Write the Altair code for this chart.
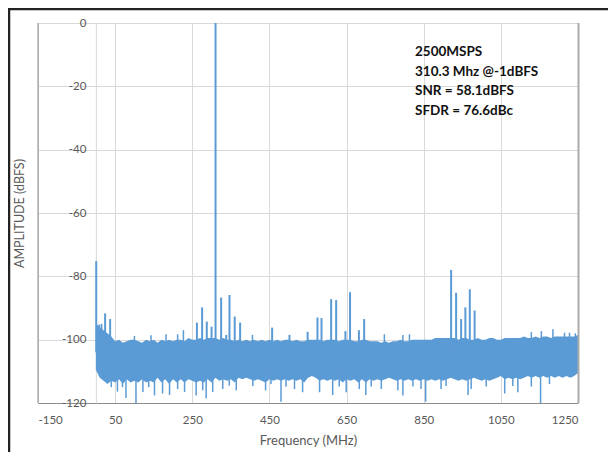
import altair as alt
import pandas as pd

# ---------------- data ----------------
band_freq = list(range(0, 1251, 10))
band_upper = [
    -95, -96, -97, -98, -99, -100.5, -100, -101, -100.5, -100,
    -100, -100.5, -101, -100, -100.5, -100, -101, -100, -100.5, -100,
    -100.5, -100, -100, -100.5, -99.5, -100, -100, -99.5, -100, -99.5,
    -99.5, -99.5, -100, -99.5, -100, -100, -100.5, -100, -100.5, -100,
    -100.5, -100, -100.5, -100, -100.5, -100, -100.5, -100, -100.5, -100,
    -100, -100.5, -100, -100.5, -100.5, -100, -100, -100, -100, -100.5,
    -100, -100, -100, -100.5, -100, -100, -100, -100.5, -100.5, -100,
    -100, -100.5, -100.5, -100.5, -101, -100.5, -101, -100.5, -100.5, -100,
    -100.5, -100.5, -100, -100, -100, -100, -100, -100, -99.5, -99.5,
    -99.5, -99.5, -99.5, -99.5, -100, -99.5, -99.5, -100, -100, -99.5,
    -100, -100, -99.5, -99.5, -100, -100, -99.5, -99.5, -99.5, -99.5,
    -99.5, -99, -99.5, -99.5, -99, -99.5, -99, -99, -99.5, -99,
    -99, -99, -99, -99, -99, -98.5,
]
band_lower = [
    -109.5, -112, -113, -114, -113, -113.5, -112.5, -114, -112.5, -113.5,
    -113, -113.5, -112.5, -113.5, -113, -113.5, -112, -113.5, -112.5, -114,
    -112.5, -113.5, -112.5, -113.5, -112.5, -113, -113.5, -113, -113.5, -112.5,
    -113.5, -112, -113, -112.5, -113, -112.5, -113.5, -112, -112.5, -112,
    -112.5, -113, -112.5, -113, -113.5, -112.5, -113, -112.5, -113, -112.5,
    -113, -112.5, -113, -112.5, -113.5, -112, -111.5, -112, -113, -112.5,
    -113, -112.5, -113, -112.5, -113.5, -112.5, -113, -112.5, -113.5, -112.5,
    -113.5, -112.5, -113, -112.5, -113, -112.5, -112, -112.5, -113, -112.5,
    -113, -112.5, -113, -112.5, -113, -112.5, -113, -112.5, -113, -112.5,
    -113, -112.5, -112, -112.5, -113, -112.5, -113, -112.5, -112, -112.5,
    -113, -112.5, -113, -112.5, -112, -111.5, -112.5, -112, -112.5, -112,
    -112.5, -112, -111.5, -112, -111.5, -112, -111.5, -112, -111.5, -112,
    -111.5, -112, -111.5, -112, -111.5, -110.5,
]

# tone, harmonics and spurs
spur_freq = [1, 9, 24, 37, 262, 275.5, 287.6, 300, 310.3, 324.8, 338, 346.4, 360, 374,
             457, 502, 549, 574.5, 585, 610, 623, 647, 659, 682, 695.6,
             921, 934, 947, 958, 969.5, 982]
spur_level = [-75.2, -95.2, -91.7, -93.5, -94.6, -89.8, -94.3, -95.9, 0, -86.7, -98.5, -85.9, -92.7, -94.6,
              -96.2, -98.5, -97.5, -93, -93.2, -87.2, -87.5, -97.3, -85, -97, -93.5,
              -78, -85.2, -93.5, -89.8, -84.1, -90.8]

# small noise peaks above the floor
peak_freq = [15, 100, 143, 182, 212, 227, 406, 748, 796, 813, 1129, 1155, 1185, 1215, 1228, 1243]
peak_level = [-95, -98.8, -98.6, -98.3, -98.3, -97, -98.5, -98.3, -98.5, -98.3, -97.6, -97.3, -96.7,
              -97.8, -97.8, -98]

# deep noise dips below the floor
dip_freq = [40, 56, 69, 78, 104, 122, 137, 152, 173, 191, 212, 230, 260, 277, 286, 303, 329, 346,
            364, 407, 440, 454, 480, 493, 515, 536, 580, 614, 631, 649, 683, 700, 714, 740, 783,
            796, 822, 843, 855, 895, 908, 965, 973, 1012, 1060, 1081, 1094, 1129, 1153, 1176]
dip_level = [-115, -116.4, -115, -118.4, -120, -116.5, -115, -117.6, -117, -117.5, -115.6, -116.5,
             -117.6, -116, -118.5, -116.5, -115.6, -114.5, -116, -114.6, -116, -114, -119.6, -114.9,
             -115.6, -116.6, -116.6, -117.5, -114.8, -116.6, -115.6, -117.5, -114.8, -115.6, -116,
             -117.6, -114.8, -115.6, -119.6, -115.6, -114.6, -117.5, -115.6, -114.8, -117, -114.6,
             -116.6, -114.8, -120, -114]

x_ticks = [-150, 50, 250, 450, 650, 850, 1050, 1250]
y_ticks = [0, -20, -40, -60, -80, -100, -120]
annotation_lines = ["2500MSPS", "310.3 Mhz @-1dBFS", "SNR = 58.1dBFS", "SFDR = 76.6dBc"]

# ---------------- chart ----------------
BLUE = "#5B9BD5"
GRID = "#D9D9D9"
LABEL = "#595959"
FONT = "Lato"

W, H = 540, 380
x_scale = alt.Scale(domain=[-150, 1250], nice=False, zero=False)
y_scale = alt.Scale(domain=[-120, 0], nice=False, zero=False)

band = pd.DataFrame({"f": band_freq, "hi": band_upper, "lo": band_lower})
spurs = pd.DataFrame({"f": spur_freq, "v": spur_level})
peaks = pd.DataFrame({"f": peak_freq, "v": peak_level})
dips = pd.DataFrame({"f": dip_freq, "v": dip_level})

x_axis = alt.Axis(
    values=x_ticks, grid=True, gridColor=GRID, ticks=False, domainColor="#8C8C8C",
    labelFont=FONT, labelFontSize=11.5, labelColor=LABEL, labelPadding=11,
    labelExpr="'' + datum.value",
    titleFont=FONT, titleFontSize=13, titleFontWeight="normal",
    titleColor=LABEL, titlePadding=9,
)
y_axis = alt.Axis(
    values=y_ticks, grid=True, gridColor=GRID, ticks=False, domainColor=GRID,
    offset=-W * 150 / 1400, labelFont=FONT, labelFontSize=11.5, labelColor=LABEL,
    labelPadding=10, labelExpr="'' + datum.value",
    titleFont=FONT, titleFontSize=12.5, titleFontWeight="normal",
    titleColor=LABEL, titleX=-76, titleY=H / 2, titleAlign="center", titleBaseline="middle",
    titleAngle=270,
)
X_TITLE = "Frequency (MHz)"
Y_TITLE = "AMPLITUDE (dBFS)"


def xenc():
    return alt.X("f:Q", scale=x_scale, axis=x_axis, title=X_TITLE)


def yenc(field):
    return alt.Y(field, scale=y_scale, axis=y_axis, title=Y_TITLE)


band_layer = alt.Chart(band).mark_area(color=BLUE, interpolate="linear").encode(
    x=xenc(), y=yenc("hi:Q"), y2="lo:Q",
)
spur_layer = alt.Chart(spurs).mark_rule(color=BLUE, strokeWidth=2).encode(
    x=xenc(), y=yenc("v:Q"), y2=alt.datum(-104),
)
peak_layer = alt.Chart(peaks).mark_rule(color=BLUE, strokeWidth=1.5).encode(
    x=xenc(), y=yenc("v:Q"), y2=alt.datum(-101),
)
dip_layer = alt.Chart(dips).mark_rule(color=BLUE, strokeWidth=1.5).encode(
    x=xenc(), y=yenc("v:Q"), y2=alt.datum(-109),
)

left_border = alt.Chart().mark_rule(color="#8C8C8C", strokeWidth=1).encode(
    x=alt.value(0), y=alt.value(0), y2=alt.value(H))
right_border = alt.Chart().mark_rule(color="#ABABAB", strokeWidth=2).encode(
    x=alt.value(W + 0.5), y=alt.value(0), y2=alt.value(H))

frame_top = alt.Chart().mark_rule(color="#222222", strokeWidth=2.5).encode(
    x=alt.value(-30), x2=alt.value(570), y=alt.value(-14))
frame_left = alt.Chart().mark_rule(color="#222222", strokeWidth=2.5).encode(
    x=alt.value(-29), y=alt.value(-14), y2=alt.value(H + 49))

texts = []
for i, line in enumerate(annotation_lines):
    texts.append(
        alt.Chart().mark_text(
            text=line, align="left", baseline="middle", font=FONT, fontSize=13.5,
            fontWeight="bold", color="#111111",
        ).encode(x=alt.value(377), y=alt.value(29 + 19.5 * i))
    )

chart = alt.layer(
    band_layer, spur_layer, peak_layer, dip_layer, left_border, right_border,
    frame_top, frame_left, *texts,
).properties(
    width=W, height=H,
    padding={"left": 30, "top": 15, "right": 30, "bottom": 49},
    autosize=alt.AutoSizeParams(type="none"),
    background="white",
).configure_view(stroke=GRID)

chart.save("out.html", embed_options={"renderer": "svg", "actions": False})
